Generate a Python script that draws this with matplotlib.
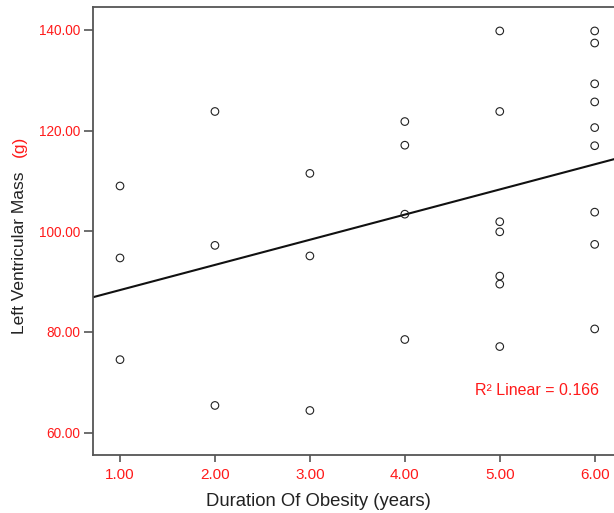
import matplotlib
matplotlib.use('Agg')
import matplotlib.pyplot as plt
import numpy as np

plt.rcParams['font.family'] = ['Liberation Sans', 'DejaVu Sans']

# data
duration = [1, 1, 1,
            2, 2, 2,
            3, 3, 3,
            4, 4, 4, 4,
            5, 5, 5, 5, 5, 5, 5,
            6, 6, 6, 6, 6, 6, 6, 6, 6]
lv_mass = [109.0, 94.7, 74.5,
           123.8, 97.2, 65.4,
           111.5, 95.1, 64.4,
           121.8, 117.1, 103.4, 78.5,
           139.8, 123.8, 101.9, 99.9, 91.1, 89.5, 77.1,
           139.8, 137.4, 129.3, 125.7, 120.6, 117.0, 103.8, 97.4, 80.6]

x_ticks = [1, 2, 3, 4, 5, 6]
y_ticks = [60, 80, 100, 120, 140]
r2_text = 'R\u00b2 Linear = 0.166'

red = '#ff1a1a'
spine_col = '#555555'

fig = plt.figure(figsize=(6.14, 5.13), dpi=100)
ax = fig.add_axes([0.151, 0.1125, 0.862, 0.8733])

ax.scatter(duration, lv_mass, s=30, facecolors='none', edgecolors='#222222',
           linewidths=0.8, zorder=3)

# linear fit line
xlim = (0.7125, 6.2875)
slope, icpt = np.polyfit(duration, lv_mass, 1)
xs = np.array(xlim)
ax.plot(xs, slope * xs + icpt, color='#111111', lw=1.5, zorder=2)

ax.set_xlim(*xlim)
ax.set_ylim(55.5, 144.5)
ax.set_xticks(x_ticks)
ax.set_xticklabels(['%.2f' % v for v in x_ticks])
ax.set_yticks(y_ticks)
ax.set_yticklabels(['%.2f' % v for v in y_ticks])
ax.tick_params(axis='x', colors=spine_col, labelcolor=red, labelsize=11,
               length=5, width=1.2, pad=4)
ax.tick_params(axis='y', colors=spine_col, labelcolor=red, labelsize=9.8,
               length=6.8, width=1.2, pad=2)

for s in ax.spines.values():
    s.set_color(spine_col)
    s.set_linewidth(1.3)

ax.text(6.042, 68.35, r2_text, color=red, fontsize=11.5, ha='right', va='center')

# axis titles, "(g)" in red
fig.text(0.518, 0.022, 'Duration Of Obesity (years)', fontsize=13.3,
         color='#222222', ha='center', va='center')
fig.text(0.031, 0.508, 'Left Ventricular Mass', fontsize=12.5, color='#222222',
         rotation=90, ha='center', va='center')
fig.text(0.031, 0.714, '(g)', fontsize=12.5, color=red,
         rotation=90, ha='center', va='center')

fig.savefig('out.png', dpi=100)
